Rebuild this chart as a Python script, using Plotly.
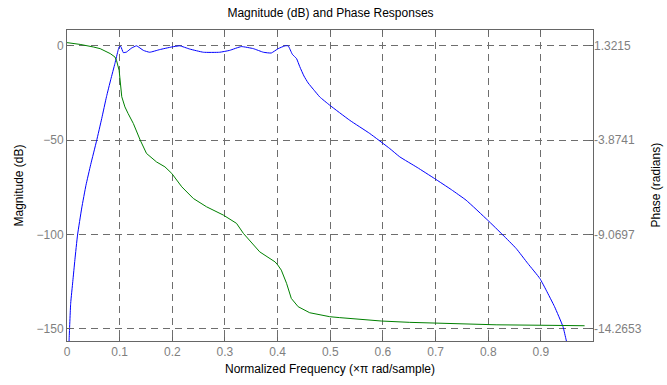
import plotly.graph_objects as go

# Magnitude response (dB)
mag_freq = [0.003, 0.004, 0.007, 0.011, 0.015, 0.020, 0.028, 0.036, 0.045, 0.056,
            0.066, 0.075, 0.083, 0.091, 0.097, 0.099, 0.102, 0.107, 0.113, 0.122, 0.132,
            0.145, 0.157, 0.176, 0.199, 0.214, 0.233, 0.259, 0.290, 0.309, 0.331, 0.354,
            0.373, 0.388, 0.401, 0.414, 0.420, 0.428, 0.436, 0.442, 0.450, 0.458, 0.470, 0.480,
            0.499, 0.537, 0.575, 0.613, 0.632, 0.665, 0.698, 0.730, 0.758, 0.799, 0.828,
            0.853, 0.875, 0.898, 0.910, 0.926, 0.942, 0.948, 0.953]
mag_db = [-165, -156, -136.6, -125, -113.5, -100.4, -86, -74, -63, -50.6,
          -38.5, -27, -18, -9.4, -2.4, -0.6, -0.3, -3.6, -3.3, -1.3, 0,
          -2.4, -3.4, -2, -0.6, 0, -1.7, -3.4, -3.4, -2.4, -0.4, -1.5,
          -3.4, -3.8, -1.5, 0, 0, -4.5, -6.8, -11.0, -16.0, -19.7, -23.8, -27.1,
          -31.5, -39.5, -46.5, -54.5, -58.9, -64.5, -70.4, -76.3, -81.9, -92.5, -100.4,
          -107.5, -115.4, -123.4, -129.6, -138.4, -149, -156, -162]

# Phase response (radians)
ph_freq = [0.0, 0.025, 0.05, 0.063, 0.082, 0.091, 0.094, 0.099, 0.104, 0.106, 0.110,
           0.116, 0.126, 0.139, 0.151, 0.170, 0.186, 0.199, 0.218, 0.240, 0.265, 0.297,
           0.322, 0.335, 0.366, 0.395, 0.400, 0.407, 0.417, 0.426, 0.439, 0.461, 0.499,
           0.518, 0.556, 0.597, 0.651, 0.720, 0.815, 0.923, 0.983]
ph_rad = [1.498, 1.40, 1.259, 1.166, 0.895, 0.708, 0.521, -0.029, -1.484, -1.682, -2.045,
          -2.409, -2.960, -3.874, -4.612, -5.079, -5.350, -5.713, -6.451, -7.095, -7.552, -8.010,
          -8.467, -9.018, -10.036, -10.587, -10.750, -11.044, -11.771, -12.603, -13.060, -13.393, -13.611,
          -13.663, -13.746, -13.850, -13.923, -13.975, -14.058, -14.089, -14.110]

x_ticks = [0, 0.1, 0.2, 0.3, 0.4, 0.5, 0.6, 0.7, 0.8, 0.9]
x_tick_text = ["0", "0.1", "0.2", "0.3", "0.4", "0.5", "0.6", "0.7", "0.8", "0.9"]
mag_ticks = [0, -50, -100, -150]
ph_ticks = [1.3215, -3.8741, -9.0697, -14.2653]
ph_tick_text = ["1.3215", "-3.8741", "-9.0697", "-14.2653"]

mag_range = [-156.6, 8.4]
scale = (ph_ticks[0] - ph_ticks[3]) / (mag_ticks[0] - mag_ticks[3])
ph_range = [ph_ticks[0] + scale * (mag_range[0] - mag_ticks[0]),
            ph_ticks[0] + scale * (mag_range[1] - mag_ticks[0])]

FONT = "Liberation Sans, Arial, Helvetica, sans-serif"
TICKC = "#7f7f7f"
GRIDC = "#6e6e6e"

fig = go.Figure()
fig.add_trace(go.Scatter(x=mag_freq, y=mag_db, mode="lines", line_shape="spline",
                         line=dict(color="#0000ff", width=1, smoothing=0.4), yaxis="y", showlegend=False))
fig.add_trace(go.Scatter(x=ph_freq, y=ph_rad, mode="lines", line_shape="linear",
                         line=dict(color="#008000", width=1), yaxis="y2", showlegend=False))

fig.update_layout(
    width=667, height=385,
    margin=dict(l=67, r=74, t=30, b=44, autoexpand=False),
    paper_bgcolor="white", plot_bgcolor="white",
    font=dict(family=FONT, size=12, color="black"),
    title=dict(text="Magnitude (dB) and Phase Responses", x=0.4955, xanchor="center",
               y=1 - 13 / 385, yanchor="middle", font=dict(size=12, color="black")),
    xaxis=dict(range=[0, 0.999], tickvals=x_ticks, ticktext=x_tick_text, automargin=False,
               ticks="inside", ticklen=4, tickcolor="#666666",
               showline=True, linecolor="#666666", linewidth=1, mirror="ticks",
               showgrid=True, gridcolor=GRIDC, griddash="7px,5px", gridwidth=1,
               zeroline=False, tickfont=dict(color=TICKC, size=12),
               title=dict(text="Normalized Frequency (\u00d7\u03c0 rad/sample)",
                          font=dict(size=12, color="black"), standoff=6)),
    yaxis=dict(range=mag_range, tickvals=mag_ticks, automargin=False,
               ticks="inside", ticklen=4, tickcolor="#666666",
               showline=True, linecolor="#666666", linewidth=1, mirror=True,
               showgrid=True, gridcolor=GRIDC, griddash="7px,5px", gridwidth=1,
               zeroline=False, tickfont=dict(color=TICKC, size=12)),
    yaxis2=dict(range=ph_range, tickvals=ph_ticks, ticktext=ph_tick_text, automargin=False,
                overlaying="y", side="right",
                ticks="inside", ticklen=4, tickcolor="#666666",
                showline=False, showgrid=False, zeroline=False,
                tickfont=dict(color=TICKC, size=12)),
    annotations=[
        dict(text="Magnitude (dB)", xref="paper", yref="paper", x=0, y=0.5,
             xshift=-49, textangle=-90, showarrow=False, xanchor="center", yanchor="middle",
             font=dict(size=12, color="black")),
        dict(text="Phase (radians)", xref="paper", yref="paper", x=1, y=0.5,
             xshift=62, textangle=-90, showarrow=False, xanchor="center", yanchor="middle",
             font=dict(size=12, color="black")),
    ],
)

fig.write_html("out.html")
